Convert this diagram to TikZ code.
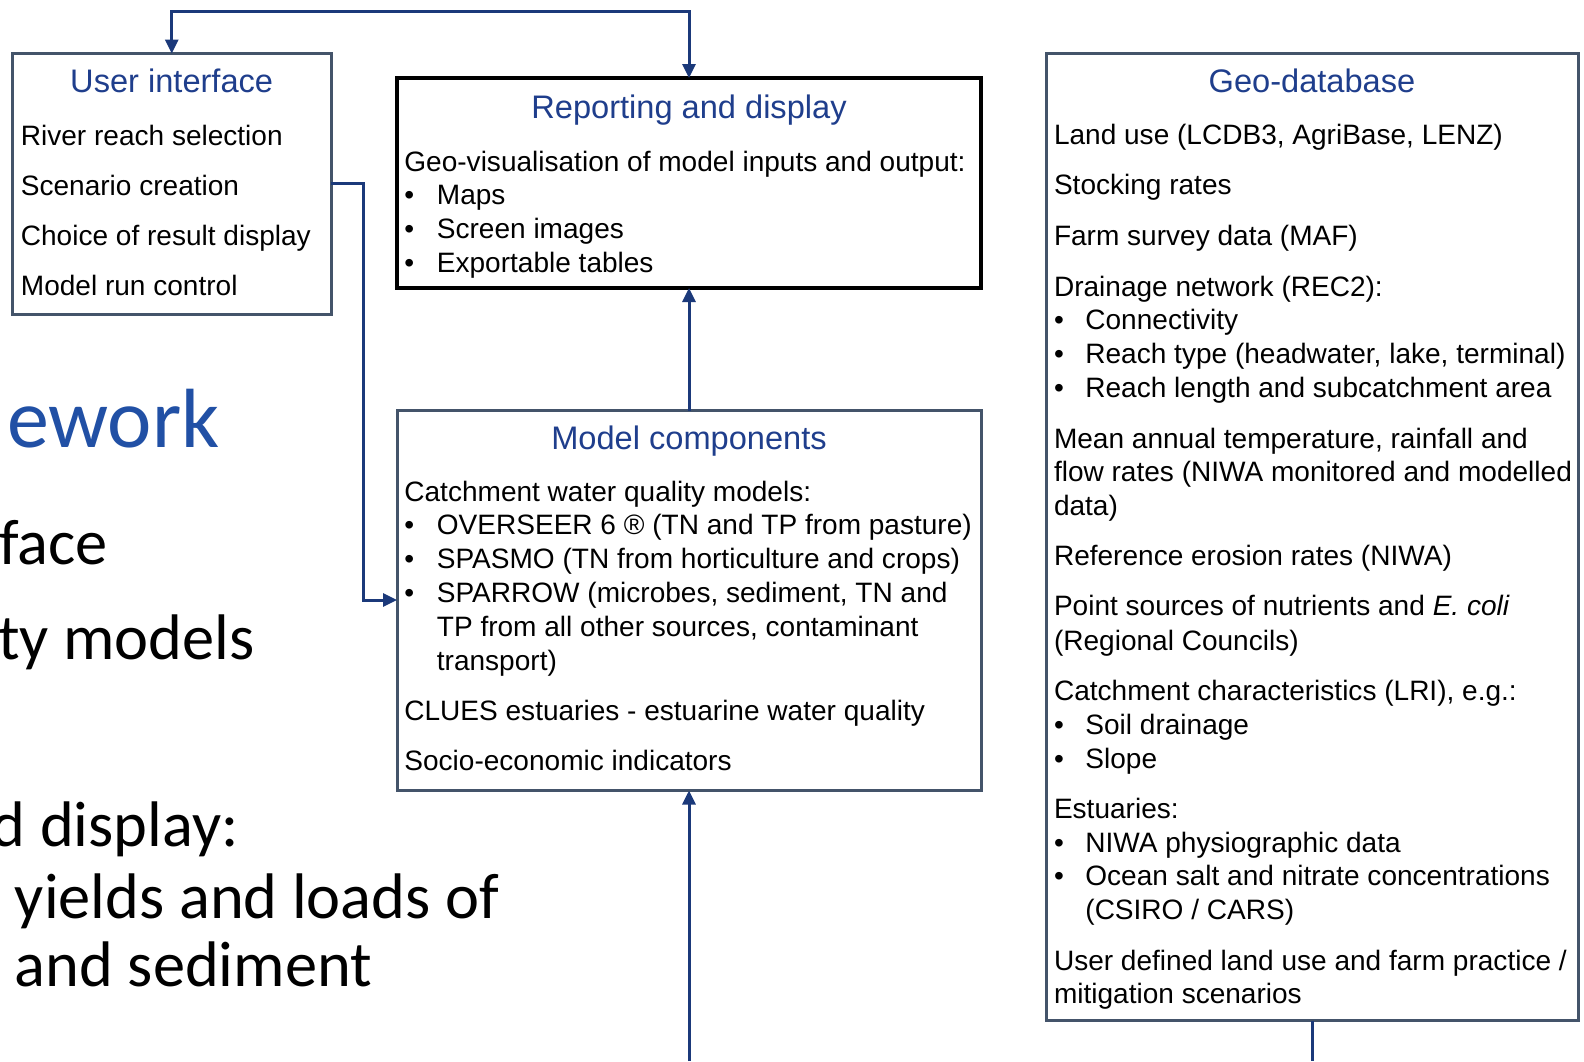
\documentclass[tikz,border=0pt]{standalone}
\usepackage{fontspec}
\setmainfont{Liberation Sans}
\newfontfamily\slidefont{Carlito}
\usetikzlibrary{arrows.meta}
\definecolor{titleblue}{RGB}{31,62,140}
\definecolor{linkblue}{RGB}{27,57,122}
\definecolor{boxgray}{RGB}{68,84,106}
\definecolor{slideblue}{RGB}{33,80,165}
\newcommand{\dgbody}{\fontsize{14.02pt}{16pt}\selectfont}
\newcommand{\dgtitle}{\fontsize{16.3pt}{19pt}\selectfont}
\newcommand{\sldbody}{\slidefont\fontsize{32.2pt}{38pt}\selectfont}
\newcommand{\sldtitle}{\slidefont\fontsize{42pt}{48pt}\selectfont}
\begin{document}
\begin{tikzpicture}[x=0.5pt,y=-0.5pt,
  txt/.style={anchor=base west,inner sep=0pt,font=\dgbody},
  ttl/.style={anchor=base,inner sep=0pt,font=\dgtitle,text=titleblue},
  sld/.style={inner sep=0pt,font=\sldbody},
  boxs/.style={draw=boxgray,line width=1.5pt,fill=white,rectangle,inner sep=0pt,outer sep=0pt,anchor=north west},
  boxk/.style={draw=black,line width=2pt,fill=white,rectangle,inner sep=0pt,outer sep=0pt,anchor=north west},
  conn/.style={draw=linkblue,line width=1.5pt},
  tip/.style={-{Triangle[length=7pt,width=6.5pt]}}
]
\useasboundingbox (0,0) rectangle (1584,1061);
\clip (0,0) rectangle (1584,1061);
\fill[white] (0,0) rectangle (1584,1061);

% background slide text
\node[inner sep=0pt,font=\sldtitle,text=slideblue,anchor=base east] (s1) at (220,447) {ework};
\node[sld,anchor=base east] (s2) at (108,564) {face};
\node[sld,anchor=base east] (s3) at (255,659) {ty models};
\node[sld,anchor=base east] (s4) at (239,846) {d display:};
\node[sld,anchor=base west] (s5) at (14.5,918) {yields and loads of};
\node[sld,anchor=base west] (s6) at (14.5,986) {and sediment};

% boxes
\node[boxs,minimum width=159.65pt,minimum height=130.35pt] (ui) at (12.1,53.5) {};
\node[boxk,minimum width=292pt,minimum height=105pt] (rep) at (397,78) {};
\node[boxs,minimum width=292pt,minimum height=190pt] (model) at (397,410.5) {};
\node[boxs,minimum width=266pt,minimum height=483.7pt] (geo) at (1046,53.3) {};

% User interface
\node[ttl] (uiT) at (171.7,92) {User interface};
\node[txt] (ui1) at (20.5,145) {River reach selection};
\node[txt] (ui2) at (20.5,195) {Scenario creation};
\node[txt] (ui3) at (20.5,245) {Choice of result display};
\node[txt] (ui4) at (20.5,295) {Model run control};

% Reporting and display
\node[ttl] (repT) at (689,118.6) {Reporting and display};
\node[txt] (rep1) at (404,171.2) {Geo-visualisation of model inputs and output:};
\node[txt] (rb1) at (404,204.8) {•};
\node[txt] (rep2) at (436.5,204.8) {Maps};
\node[txt] (rb2) at (404,238.4) {•};
\node[txt] (rep3) at (436.5,238.4) {Screen images};
\node[txt] (rb3) at (404,272) {•};
\node[txt] (rep4) at (436.5,272) {Exportable tables};

% Model components
\node[ttl] (modT) at (689,449.3) {Model components};
\node[txt] (m1) at (404,501) {Catchment water quality models:};
\node[txt] (mb1) at (404,534.8) {•};
\node[txt] (m2) at (436.5,534.8) {OVERSEER 6 ® (TN and TP from pasture)};
\node[txt] (mb2) at (404,568.6) {•};
\node[txt] (m3) at (436.5,568.6) {SPASMO (TN from horticulture and crops)};
\node[txt] (mb3) at (404,602.4) {•};
\node[txt] (m4) at (436.5,602.4) {SPARROW (microbes, sediment, TN and};
\node[txt] (m5) at (436.5,636.2) {TP from all other sources, contaminant};
\node[txt] (m6) at (436.5,670) {transport)};
\node[txt] (m7) at (404,720.8) {CLUES estuaries - estuarine water quality};
\node[txt] (m8) at (404,770.3) {Socio-economic indicators};

% Geo-database
\node[ttl] (geoT) at (1312,92.7) {Geo-database};
\node[txt] (g1) at (1053.6,144) {Land use (LCDB3, AgriBase, LENZ)};
\node[txt] (g2) at (1053.6,194.5) {Stocking rates};
\node[txt] (g3) at (1053.6,245.5) {Farm survey data (MAF)};
\node[txt] (g4) at (1053.6,296.5) {Drainage network (REC2):};
\node[txt] (gb1) at (1053.6,329.8) {•};
\node[txt] (g5) at (1085,329.8) {Connectivity};
\node[txt] (gb2) at (1053.6,363.8) {•};
\node[txt] (g6) at (1085,363.8) {Reach type (headwater, lake, terminal)};
\node[txt] (gb3) at (1053.6,397.5) {•};
\node[txt] (g7) at (1085,397.5) {Reach length and subcatchment area};
\node[txt] (g8) at (1053.6,448) {Mean annual temperature, rainfall and};
\node[txt] (g9) at (1053.6,481.6) {flow rates (NIWA monitored and modelled};
\node[txt] (g10) at (1053.6,515.5) {data)};
\node[txt] (g11) at (1053.6,565.2) {Reference erosion rates (NIWA)};
\node[txt] (g12) at (1053.6,615.7) {Point sources of nutrients and \emph{E. coli}};
\node[txt] (g13) at (1053.6,650) {(Regional Councils)};
\node[txt] (g14) at (1053.6,700.6) {Catchment characteristics (LRI), e.g.:};
\node[txt] (gb4) at (1053.6,734.7) {•};
\node[txt] (g15) at (1085,734.7) {Soil drainage};
\node[txt] (gb5) at (1053.6,768.3) {•};
\node[txt] (g16) at (1085,768.3) {Slope};
\node[txt] (g17) at (1053.6,818.8) {Estuaries:};
\node[txt] (gb6) at (1053.6,852.1) {•};
\node[txt] (g18) at (1085,852.1) {NIWA physiographic data};
\node[txt] (gb7) at (1053.6,885.6) {•};
\node[txt] (g19) at (1085,885.6) {Ocean salt and nitrate concentrations};
\node[txt] (g20) at (1085,919.6) {(CSIRO / CARS)};
\node[txt] (g21) at (1053.6,970.3) {User defined land use and farm practice /};
\node[txt] (g22) at (1053.6,1003.8) {mitigation scenarios};

% connectors
\coordinate (topy) at (0,11.1);
\coordinate (uiA) at (363.7,600);
\coordinate (botm) at (689,1061);
\coordinate (botg) at (1312,1061);
\draw[conn,{Triangle[length=7pt,width=6.5pt]}-{Triangle[length=7pt,width=6.5pt]}]
  (ui.north) -- (ui.north |- topy) -- (rep.north |- topy) -- (rep.north);
\draw[conn,tip] (ui.east) -| (uiA) -- (model.west |- uiA);
\draw[conn,tip] (model.north) -- (rep.south);
\draw[conn,tip] (botm) -- (model.south);
\draw[conn] (geo.south) -- (botg);
\end{tikzpicture}
\end{document}
